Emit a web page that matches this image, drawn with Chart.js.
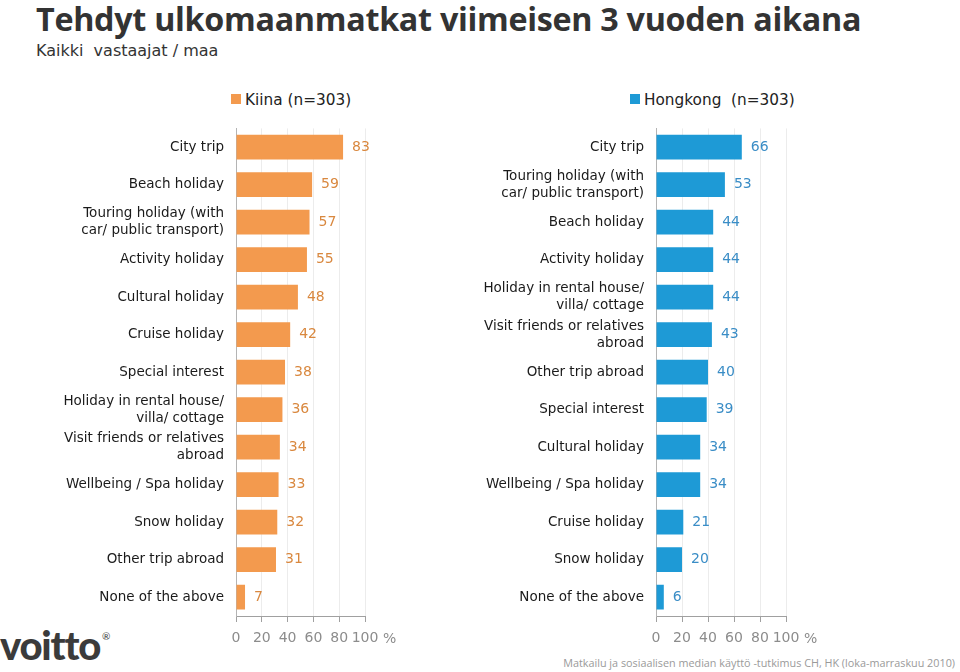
<!DOCTYPE html>
<html>
<head>
<meta charset="utf-8">
<script src="https://cdn.jsdelivr.net/npm/chart.js@4.4.1/dist/chart.umd.min.js"></script>
<style>
  body { margin: 0; width: 960px; height: 672px; background: #fff; position: relative; overflow: hidden; font-family: "DejaVu Sans", sans-serif; }
  .abs { position: absolute; white-space: nowrap; }
  #title { left: 36px; top: -4px; font-family: "Open Sans", sans-serif; font-weight: bold; font-size: 32.3px; color: #333; letter-spacing: -0.3px; }
  #subtitle { left: 36px; top: 41px; font-size: 16px; color: #333; }
  .legend { top: 91px; font-size: 15.3px; color: #222; }
  .legend span { display: inline-block; width: 10px; height: 10px; margin-right: 4px; vertical-align: 1px; }
  #logo { left: 0px; top: 621px; font-family: Lato, sans-serif; font-weight: 900; font-size: 40px; color: #3b3b3b; letter-spacing: -1.2px; }
  #logo sup { font-size: 10px; font-weight: normal; vertical-align: 20px; margin-left: 2px; }
  #footer { right: 5px; top: 655px; font-family: "Open Sans", sans-serif; font-size: 10.8px; color: #9a9a9a; }
  canvas { position: absolute; top: 108px; }
</style>
</head>
<body>
<div id="title" class="abs">Tehdyt ulkomaanmatkat viimeisen 3 vuoden aikana</div>
<div id="subtitle" class="abs">Kaikki&nbsp; vastaajat / maa</div>
<div class="abs legend" style="left:231px"><span style="background:#F39A4E"></span>Kiina (n=303)</div>
<div class="abs legend" style="left:630px"><span style="background:#1E9AD6"></span>Hongkong&nbsp; (n=303)</div>
<div id="logo" class="abs">voitto<sup>®</sup></div>
<div id="footer" class="abs">Matkailu ja sosiaalisen median käyttö -tutkimus CH, HK (loka-marraskuu 2010)</div>

<canvas id="chartKiina" width="480" height="548" style="left:0px"></canvas>
<canvas id="chartHongkong" width="480" height="548" style="left:480px"></canvas>

<script>
const categoriesKiina = ["City trip", "Beach holiday", ["Touring holiday (with", "car/ public transport)"], "Activity holiday", "Cultural holiday", "Cruise holiday", "Special interest", ["Holiday in rental house/", "villa/ cottage"], ["Visit friends or relatives", "abroad"], "Wellbeing / Spa holiday", "Snow holiday", "Other trip abroad", "None of the above"];
const valuesKiina = [83, 59, 57, 55, 48, 42, 38, 36, 34, 33, 32, 31, 7];

const categoriesHongkong = ["City trip", ["Touring holiday (with", "car/ public transport)"], "Beach holiday", "Activity holiday", ["Holiday in rental house/", "villa/ cottage"], ["Visit friends or relatives", "abroad"], "Other trip abroad", "Special interest", "Cultural holiday", "Wellbeing / Spa holiday", "Cruise holiday", "Snow holiday", "None of the above"];
const valuesHongkong = [66, 53, 44, 44, 44, 43, 40, 39, 34, 34, 21, 20, 6];

const xTicks = [0, 20, 40, 60, 80, 100];

// draws the value next to each bar and the "%" after the last tick
const valueLabels = {
  id: "valueLabels",
  afterDraw(chart, args, opts) {
    const ctx = chart.ctx;
    const meta = chart.getDatasetMeta(0);
    ctx.save();
    ctx.font = "14px 'DejaVu Sans'";
    ctx.fillStyle = opts.color;
    ctx.textAlign = "left";
    ctx.textBaseline = "middle";
    meta.data.forEach((bar, i) => {
      ctx.fillText(chart.data.datasets[0].data[i], bar.x + 9, bar.y);
    });
    const x = chart.scales.x;
    ctx.fillStyle = "#8c8c8c";
    ctx.fillText("%", x.getPixelForValue(100) + 18, x.top + 23);
    ctx.restore();
  }
};

function makeChart(id, labels, values, color, labelColor, axisWidth, rightPad) {
  const ctx = document.getElementById(id).getContext("2d");
  return new Chart(ctx, {
    type: "bar",
    data: {
      labels: labels,
      datasets: [{
        data: values,
        backgroundColor: color,
        barPercentage: 0.66,
        categoryPercentage: 1.0,
      }],
    },
    plugins: [valueLabels],
    options: {
      indexAxis: "y",
      responsive: false,
      animation: false,
      devicePixelRatio: 1,
      layout: { padding: { top: 6, right: rightPad, left: 0, bottom: 0 } },
      plugins: {
        legend: { display: false },
        tooltip: { enabled: false },
        valueLabels: { color: labelColor },
      },
      scales: {
        x: {
          min: 0,
          max: 100,
          afterBuildTicks: (scale) => { scale.ticks = xTicks.map((v) => ({ value: v })); },
          afterFit: (scale) => { scale.height = 40; },
          grid: { color: "#ececec", tickColor: "#a0a0a0", tickLength: 6 },
          border: { color: "#a0a0a0" },
          ticks: { color: "#8c8c8c", font: { family: "DejaVu Sans", size: 14 }, padding: 8, maxRotation: 0, autoSkip: false },
        },
        y: {
          afterFit: (scale) => { scale.width = axisWidth; },
          grid: { display: false, drawTicks: false },
          border: { display: true, color: "#b4b4b4" },
          ticks: { color: "#1a1a1a", font: { family: "DejaVu Sans", size: 13.5, lineHeight: 1.25 }, padding: 12, autoSkip: false },
        },
      },
    },
  });
}

makeChart("chartKiina", categoriesKiina, valuesKiina, "#F39A4E", "#D9883F", 236, 115);
makeChart("chartHongkong", categoriesHongkong, valuesHongkong, "#1E9AD6", "#3A8DC6", 176, 174);
</script>
</body>
</html>
